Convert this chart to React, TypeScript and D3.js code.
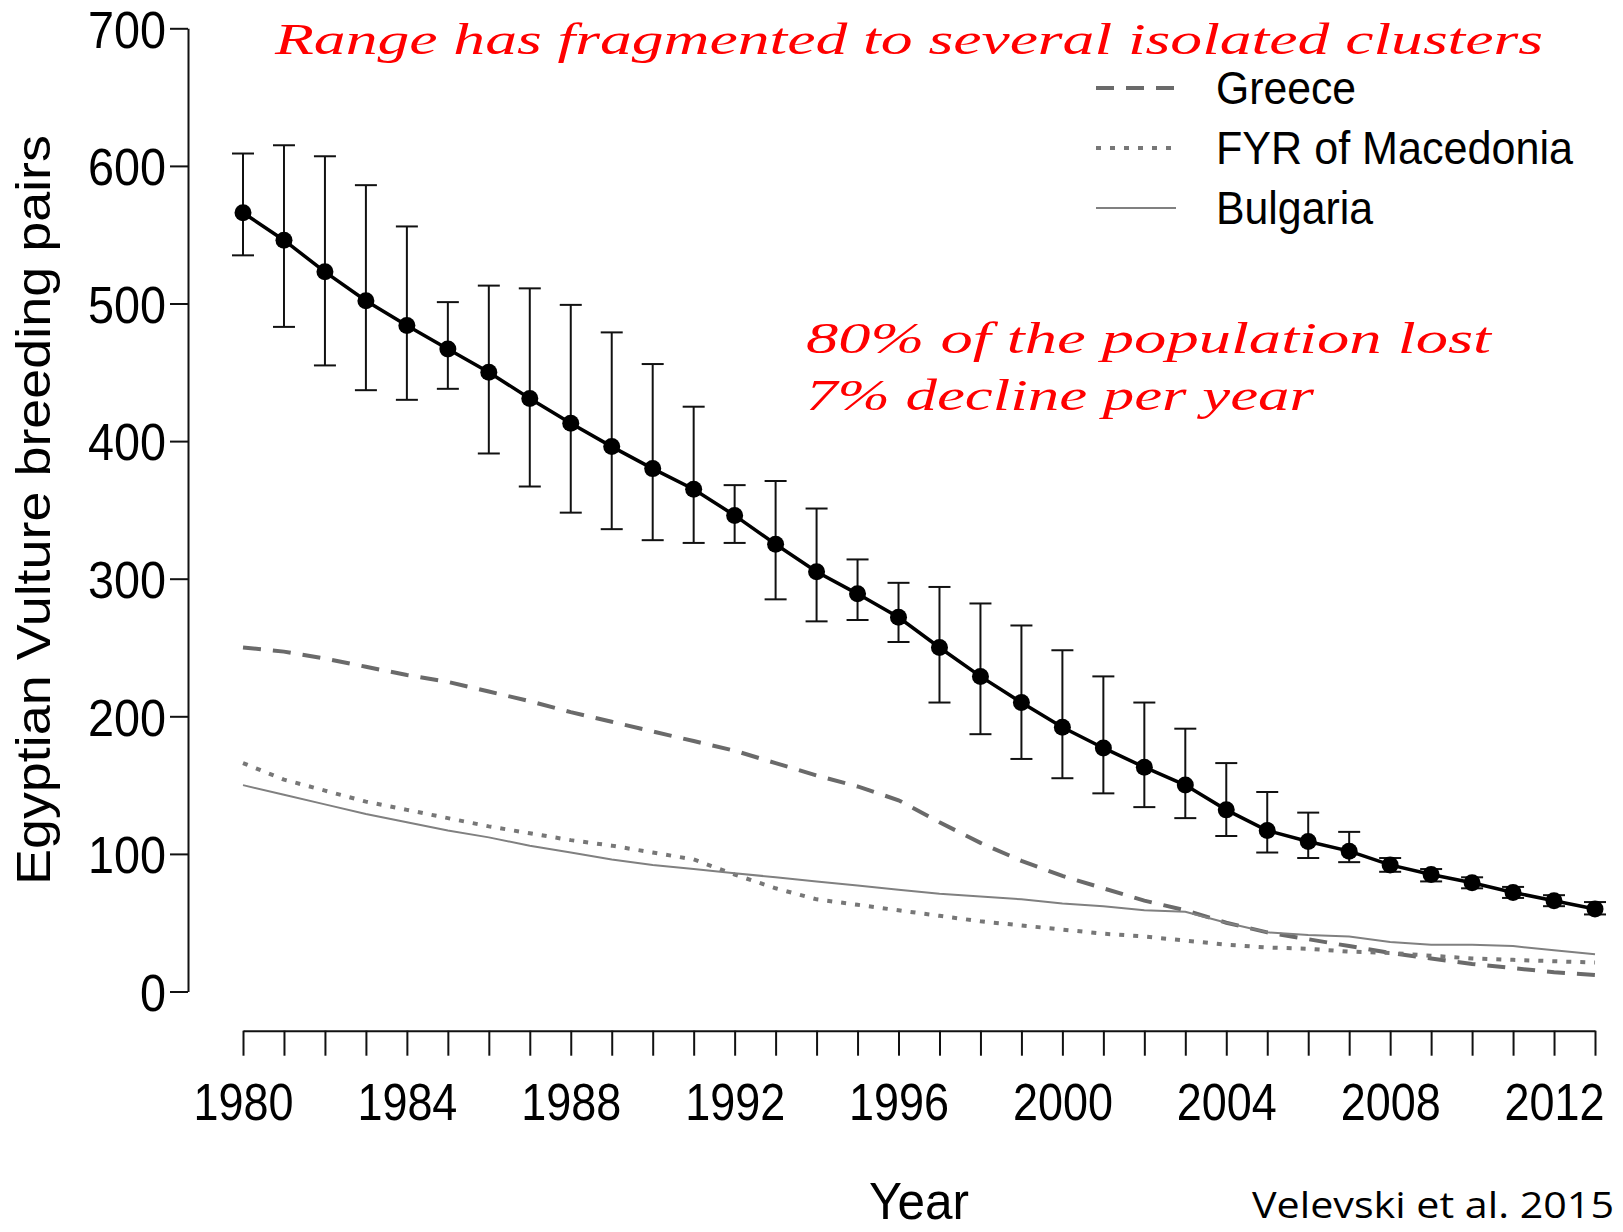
import React, { useRef, useEffect } from 'react';
import { select, scaleLinear, line, axisLeft, axisBottom, curveLinear } from 'd3';

// years on the x axis (one tick per year)
const years = [
  1980, 1981, 1982, 1983, 1984, 1985, 1986, 1987, 1988, 1989, 1990, 1991,
  1992, 1993, 1994, 1995, 1996, 1997, 1998, 1999, 2000, 2001, 2002, 2003,
  2004, 2005, 2006, 2007, 2008, 2009, 2010, 2011, 2012, 2013,
];
const labelYears = [1980, 1984, 1988, 1992, 1996, 2000, 2004, 2008, 2012];
const yTicks = [0, 100, 200, 300, 400, 500, 600, 700];

// total population (black) with error bars
const totalPairs = [
  566, 546, 523, 502, 484, 467, 450, 431, 413, 396, 380, 365, 346, 325, 305,
  289, 272, 250, 229, 210, 192, 177, 163, 150, 132, 117, 109, 102, 92, 85, 79,
  72, 66, 60,
];
const totalUpper = [
  609, 615, 607, 586, 556, 501, 513, 511, 499, 479, 456, 425, 368, 371, 351,
  314, 297, 294, 282, 266, 248, 229, 210, 191, 166, 145, 130, 116, 97, 89, 83,
  76, 70, 65,
];
const totalLower = [
  535, 483, 455, 437, 430, 438, 391, 367, 348, 336, 328, 326, 326, 285, 269,
  270, 254, 210, 187, 169, 155, 144, 134, 126, 113, 101, 97, 94, 87, 80, 75,
  68, 62, 56,
];

// country series
const greece = [
  250, 247, 242, 236, 230, 225, 218, 211, 203, 196, 189, 182, 175, 166, 157,
  149, 139, 123, 108, 95, 84, 75, 66, 59, 50, 43, 38, 33, 28, 24, 20, 17, 14,
  12,
];
const macedonia = [
  166, 154, 146, 138, 132, 126, 120, 115, 110, 106, 101, 96, 85, 75, 67, 63,
  59, 55, 51, 48, 45, 42, 40, 37, 34, 32, 31, 29, 28, 26, 24, 23, 22, 21,
];
const bulgaria = [
  150, 143, 136, 129, 123, 117, 112, 106, 101, 96, 92, 89, 86, 83, 80, 77, 74,
  71, 69, 67, 64, 62, 59, 58, 50, 43, 41, 40, 36, 34, 34, 33, 30, 27,
];

const seriesNames = ['Greece', 'FYR of Macedonia', 'Bulgaria'];
const seriesValues = [greece, macedonia, bulgaria];

const width = 1623;
const height = 1232;
const axisFont = 'Liberation Sans, Arial, Helvetica, sans-serif';
const handFont = "'Segoe Print', 'Comic Sans MS', cursive";

const x = scaleLinear().domain([1980, 2013]).range([243, 1595]);
const y = scaleLinear().domain([0, 700]).range([991.5, 28.3]);

// line styles per country
const seriesStyle = [
  { dash: '18 12', width: 4, color: '#6a6a6a' },
  { dash: '5 9', width: 4, color: '#777777' },
  { dash: 'none', width: 2, color: '#808080' },
];
const legendTextLength = [140, 357, 157];

export default function App() {
  const svgRef = useRef(null);

  useEffect(() => {
    const svg = select(svgRef.current);
    svg.selectAll('.axis').remove();

    // left axis
    const yAxis = axisLeft(y)
      .tickValues(yTicks)
      .tickSize(18)
      .tickSizeOuter(0)
      .tickPadding(4);
    const gy = svg
      .append('g')
      .attr('class', 'axis')
      .attr('transform', 'translate(188,0)')
      .call(yAxis);
    gy.selectAll('path, line').attr('stroke', '#111').attr('stroke-width', 2);
    gy.selectAll('text')
      .attr('x', -22)
      .attr('dy', '0.36em')
      .attr('fill', '#000')
      .style('font-family', axisFont)
      .style('font-size', '52px')
      .attr('textLength', d => String(d).length * 26)
      .attr('lengthAdjust', 'spacingAndGlyphs');

    // bottom axis, detached below the plot
    const xAxis = axisBottom(x)
      .tickValues(years)
      .tickSize(25)
      .tickSizeOuter(0)
      .tickFormat(d => (labelYears.includes(d as number) ? String(d) : ''));
    const gx = svg
      .append('g')
      .attr('class', 'axis')
      .attr('transform', 'translate(0,1030.7)')
      .call(xAxis);
    gx.selectAll('path, line').attr('stroke', '#111').attr('stroke-width', 2);
    gx.selectAll('text')
      .attr('y', 89)
      .attr('dy', 0)
      .attr('fill', '#000')
      .style('font-family', axisFont)
      .style('font-size', '52px')
      .attr('textLength', d => (labelYears.includes(d as number) ? 100 : 0))
      .attr('lengthAdjust', 'spacingAndGlyphs');
  }, []);

  const lineGen = line<number>()
    .x((_, i) => x(years[i]))
    .y(d => y(d))
    .curve(curveLinear);

  return (
    <svg
      ref={svgRef}
      width={width}
      height={height}
      style={{ position: 'absolute', left: 0, top: 0, background: '#fff' }}
    >
      {/* country lines */}
      {seriesValues.map((vals, i) => (
        <path
          key={seriesNames[i]}
          d={lineGen(vals) || ''}
          fill='none'
          stroke={seriesStyle[i].color}
          strokeWidth={seriesStyle[i].width}
          strokeDasharray={seriesStyle[i].dash}
        />
      ))}

      {/* error bars */}
      {years.map((yr, i) => (
        <g key={'eb' + yr} stroke='#111' strokeWidth={2}>
          <line x1={x(yr)} x2={x(yr)} y1={y(totalUpper[i])} y2={y(totalLower[i])} />
          <line x1={x(yr) - 11} x2={x(yr) + 11} y1={y(totalUpper[i])} y2={y(totalUpper[i])} />
          <line x1={x(yr) - 11} x2={x(yr) + 11} y1={y(totalLower[i])} y2={y(totalLower[i])} />
        </g>
      ))}

      {/* total line and points */}
      <path d={lineGen(totalPairs) || ''} fill='none' stroke='#000' strokeWidth={3.5} />
      {years.map((yr, i) => (
        <circle key={'pt' + yr} cx={x(yr)} cy={y(totalPairs[i])} r={8.5} fill='#000' />
      ))}

      {/* legend */}
      {seriesNames.map((name, i) => (
        <g key={'lg' + name}>
          <line
            x1={1096}
            x2={1176}
            y1={88 + i * 60}
            y2={88 + i * 60}
            stroke={seriesStyle[i].color}
            strokeWidth={seriesStyle[i].width}
            strokeDasharray={seriesStyle[i].dash}
          />
          <text
            x={1216}
            y={104 + i * 60}
            fontFamily={axisFont}
            fontSize={46}
            textLength={legendTextLength[i]}
            lengthAdjust='spacingAndGlyphs'
          >
            {name}
          </text>
        </g>
      ))}

      {/* axis titles */}
      <text
        transform='translate(50,510) rotate(-90)'
        textAnchor='middle'
        fontFamily={axisFont}
        fontSize={48}
        textLength={750}
        lengthAdjust='spacingAndGlyphs'
      >
        Egyptian Vulture breeding pairs
      </text>
      <text
        x={919}
        y={1219}
        textAnchor='middle'
        fontFamily={axisFont}
        fontSize={52}
        textLength={100}
        lengthAdjust='spacingAndGlyphs'
      >
        Year
      </text>

      {/* annotations */}
      <text
        x={275}
        y={54}
        fill='#ff0000'
        fontFamily={handFont}
        fontStyle='italic'
        fontSize={44}
        textLength={1268}
        lengthAdjust='spacingAndGlyphs'
      >
        Range has fragmented to several isolated clusters
      </text>
      <text
        x={806}
        y={353}
        fill='#ff0000'
        fontFamily={handFont}
        fontStyle='italic'
        fontSize={44}
        textLength={685}
        lengthAdjust='spacingAndGlyphs'
      >
        80% of the population lost
      </text>
      <text
        x={806}
        y={410}
        fill='#ff0000'
        fontFamily={handFont}
        fontStyle='italic'
        fontSize={44}
        textLength={508}
        lengthAdjust='spacingAndGlyphs'
      >
        7% decline per year
      </text>
      <text
        x={1252}
        y={1218}
        fontFamily="'Open Sans', Calibri, sans-serif"
        fontSize={36}
        textLength={362}
        lengthAdjust='spacingAndGlyphs'
      >
        Velevski et al. 2015
      </text>
    </svg>
  );
}
